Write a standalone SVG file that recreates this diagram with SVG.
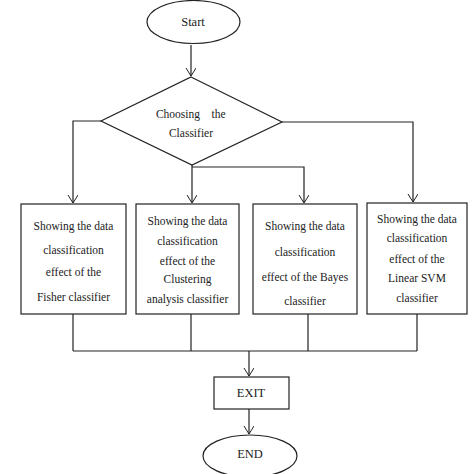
<svg xmlns="http://www.w3.org/2000/svg" width="474" height="474" viewBox="0 0 474 474">
<defs>
<marker id="arr" markerWidth="12" markerHeight="12" refX="8" refY="5" orient="auto" markerUnits="userSpaceOnUse">
<path d="M0,0 L8,5 L0,10" fill="none" stroke="#222" stroke-width="1"/>
</marker>
</defs>
<style>
.s{fill:#fff;stroke:#222;stroke-width:1.2}
.c{fill:none;stroke:#222;stroke-width:1.2}
.t text{font-family:'Liberation Serif','DejaVu Serif',serif;font-size:11.5px;fill:#222;text-anchor:middle}
.t text.b{font-size:12.5px}
</style>
<rect width="474" height="474" fill="#fff"/>
<g id="connectors">
<path class="c" d="M191,45 V76" marker-end="url(#arr)"/>
<path class="c" d="M101,121 H73 V203" marker-end="url(#arr)"/>
<path class="c" d="M282,122 H413 V202" marker-end="url(#arr)"/>
<path class="c" d="M192,165 V203" marker-end="url(#arr)"/>
<path class="c" d="M192,167 H304 V203" marker-end="url(#arr)"/>
<path class="c" d="M73,314 V351 M191,314 V351 M308,314 V351 M417,314 V351 M73,351 H417"/>
<path class="c" d="M249,351 V376" marker-end="url(#arr)"/>
<path class="c" d="M249,409 V434" marker-end="url(#arr)"/>
</g>
<g class="t" font-family="Liberation Serif, serif">
<g id="start">
<ellipse class="s" cx="193.5" cy="22" rx="46.5" ry="21.5"/>
<text class="b" x="193" y="26">Start</text>
</g>
<g id="choose">
<polygon class="s" points="191,77 282,122 192,165 101,121"/>
<text x="178" y="118">Choosing</text>
<text x="218.5" y="118">the</text>
<text x="191" y="137">Classifier</text>
</g>
<g id="fisher">
<rect class="s" x="21" y="204" width="105" height="110"/>
<text x="73.5" y="230">Showing the data</text>
<text x="73.5" y="254">classification</text>
<text x="73.5" y="276">effect of the</text>
<text x="73.5" y="301">Fisher classifier</text>
</g>
<g id="clustering">
<rect class="s" x="136" y="204" width="103" height="110"/>
<text x="187.5" y="225">Showing the data</text>
<text x="187.5" y="245">classification</text>
<text x="187.5" y="265">effect of the</text>
<text x="187.5" y="283">Clustering</text>
<text x="187.5" y="303">analysis classifier</text>
</g>
<g id="bayes">
<rect class="s" x="253" y="204" width="104" height="110"/>
<text x="305" y="230">Showing the data</text>
<text x="305" y="256">classification</text>
<text x="305" y="281">effect of the Bayes</text>
<text x="305" y="305">classifier</text>
</g>
<g id="svm">
<rect class="s" x="367" y="203" width="100" height="111"/>
<text x="417" y="223">Showing the data</text>
<text x="417" y="242">classification</text>
<text x="417" y="263">effect of the</text>
<text x="417" y="282">Linear SVM</text>
<text x="417" y="302">classifier</text>
</g>
<g id="exit">
<rect class="s" x="214" y="377" width="75" height="32"/>
<text class="b" x="251" y="397">EXIT</text>
</g>
<g id="end">
<ellipse class="s" cx="250" cy="456" rx="47" ry="21"/>
<text class="b" x="250" y="458">END</text>
</g>
</g>
</svg>
